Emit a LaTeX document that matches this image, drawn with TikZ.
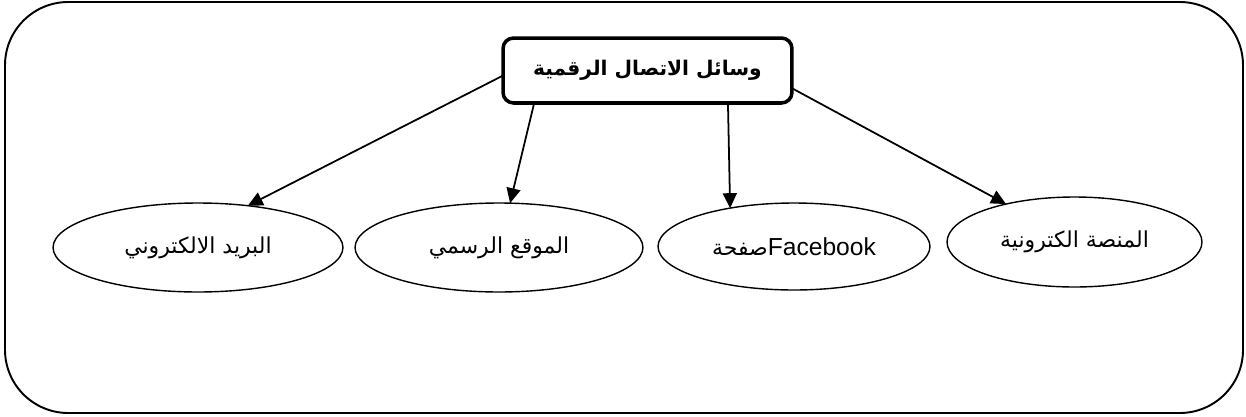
\documentclass[tikz,border=0pt]{standalone}
\usepackage{fontspec}
\setmainfont{Liberation Sans}
\newfontfamily\arabicfont[Script=Arabic]{DejaVu Sans}
\TeXXeTstate=1
\usetikzlibrary{shapes.geometric,arrows.meta}

\begin{document}
\begin{tikzpicture}[x=0.02cm, y=-0.02cm,
  every node/.style={inner sep=0pt, outer sep=0pt},
  branch/.style={ellipse, draw, line width=0.8pt, font=\fontsize{12.5}{14}\selectfont},
  link/.style={line width=1pt, -{Triangle[length=8.5pt, width=8pt]}}]
\useasboundingbox (0,0) rectangle (1246,416);
\draw[line width=1.1pt, rounded corners=36pt] (5,2) rectangle (1243,413);

\node[draw, line width=2pt, rounded corners=6pt, minimum width=5.78cm, minimum height=1.3cm,
  font=\fontsize{11.5}{14}\selectfont\bfseries] (title) at (647.5,70.5)
  {\arabicfont\beginR وسائل الاتصال الرقمية\endR};

\node[branch, minimum width=5.8cm, minimum height=1.78cm] (mail) at (198,247.5)
  {\arabicfont\beginR البريد الالكتروني\endR};
\node[branch, minimum width=5.76cm, minimum height=1.78cm] (site) at (499,247.5)
  {\arabicfont\beginR الموقع الرسمي\endR};
\node[branch, minimum width=5.44cm, minimum height=1.74cm] (fb) at (794,246.5)
  {{\arabicfont\beginR صفحة\endR}{\fontsize{14}{16}\selectfont Facebook}};
\node[branch, minimum width=5.1cm, minimum height=1.8cm] (platform) at (1074.5,242)
  {\arabicfont\beginR المنصة الكترونية\endR};

\draw[link] (title.182) -- (mail.40);
\draw[link] (title.196) -- (site.76);
\draw[link] (title.-22) -- (fb.149);
\draw[link] (title.-7) -- (platform.151);
\end{tikzpicture}
\end{document}
